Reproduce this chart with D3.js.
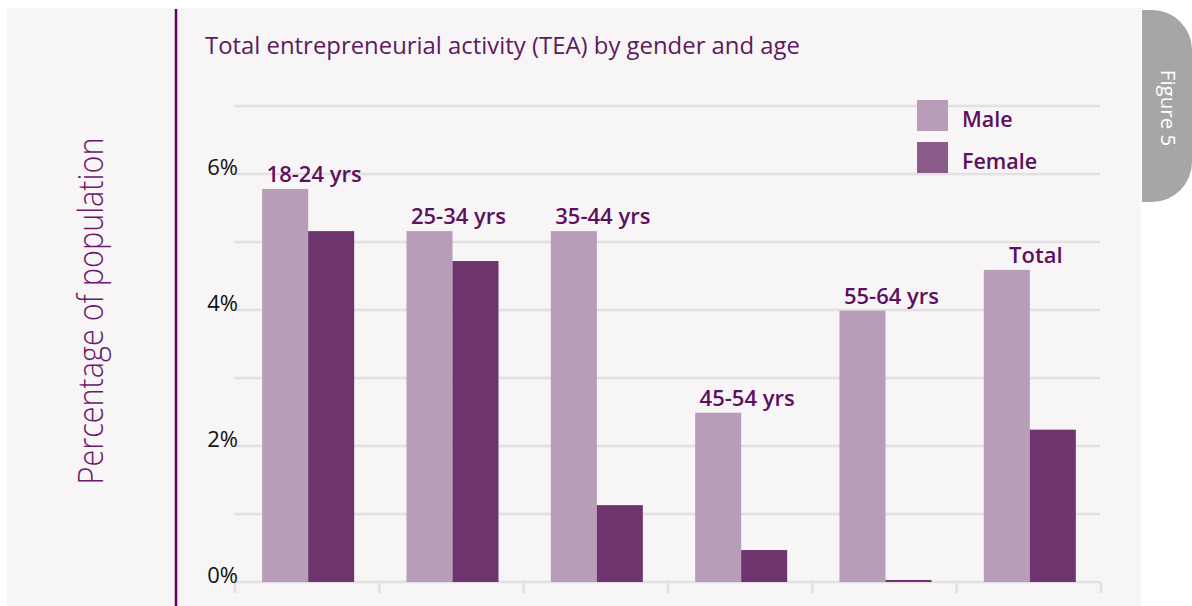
<!DOCTYPE html>
<html>
<head>
<meta charset="utf-8">
<script src="https://cdn.jsdelivr.net/npm/d3@7"></script>
<style>
  body { margin: 0; background: #fff; }
  svg text { font-family: "Open Sans", sans-serif; }
</style>
</head>
<body>
<svg id="chart" width="1192" height="606"></svg>
<script>
const categories = ["18-24 yrs", "25-34 yrs", "35-44 yrs", "45-54 yrs", "55-64 yrs", "Total"];
const series = ["Male", "Female"];
const maleValues = [5.78, 5.16, 5.16, 2.49, 3.99, 4.59];
const femaleValues = [5.16, 4.72, 1.13, 0.47, 0.03, 2.24];
const yTicks = [0, 2, 4, 6];
const gridValues = [0, 1, 2, 3, 4, 5, 6, 7];

const svg = d3.select("#chart");

// panel background and side tab
svg.append("rect").attr("x", 7).attr("y", 8).attr("width", 1134).attr("height", 598).attr("fill", "#f7f5f6");
svg.append("path")
  .attr("d", "M1142,10 H1152 A40,40 0 0 1 1192,50 V162 A40,40 0 0 1 1152,202 H1142 Z")
  .attr("fill", "#a6a6a6");
svg.append("text")
  .attr("transform", "translate(1161,108) rotate(90)")
  .attr("text-anchor", "middle")
  .attr("fill", "#fff")
  .attr("font-size", 20.5)
  .text("Figure 5");

svg.append("line").attr("x1", 176).attr("x2", 176).attr("y1", 9).attr("y2", 606)
  .attr("stroke", "#660066").attr("stroke-width", 2.5);

const x = d3.scaleBand().domain(categories).range([234, 1100]);
const y = d3.scaleLinear().domain([0, 7]).range([582, 106]);
const barW = 46;
const x1 = d3.scaleBand().domain(series)
  .range([x.bandwidth() / 2 - barW + 2, x.bandwidth() / 2 + barW + 2]);
const color = d3.scaleOrdinal(series, ["#b89cb8", "#6e346e"]);
const legendColor = d3.scaleOrdinal(series, ["#b89cb8", "#8a5a88"]);

// grid
svg.append("g").selectAll("line").data(gridValues).join("line")
  .attr("x1", 234).attr("x2", 1100)
  .attr("y1", d => y(d)).attr("y2", d => y(d))
  .attr("stroke", "#e2e0e1").attr("stroke-width", 2.5);

// bottom ticks
svg.append("g").selectAll("line").data(d3.range(categories.length + 1)).join("line")
  .attr("x1", i => 235 + i * x.step()).attr("x2", i => 235 + i * x.step())
  .attr("y1", y(0)).attr("y2", y(0) + 11)
  .attr("stroke", "#e2e0e1").attr("stroke-width", 2.5);

// y tick labels
svg.append("g").selectAll("text").data(yTicks).join("text")
  .attr("x", 238).attr("y", d => y(d) + 1)
  .attr("text-anchor", "end")
  .attr("font-size", 22)
  .attr("fill", "#111")
  .text(d => d + "%");

// bars
const rows = categories.map((c, i) => ({ cat: c, Male: maleValues[i], Female: femaleValues[i] }));
const group = svg.append("g").selectAll("g").data(rows).join("g")
  .attr("transform", d => `translate(${x(d.cat)},0)`);
group.selectAll("rect")
  .data(d => series.map(s => ({ key: s, value: d[s] })))
  .join("rect")
  .attr("x", d => x1(d.key))
  .attr("width", x1.bandwidth())
  .attr("y", d => y(d.value))
  .attr("height", d => y(0) - y(d.value))
  .attr("fill", d => color(d.key));

// category labels above male bars
group.append("text")
  .attr("x", x.bandwidth() / 2 + 8)
  .attr("y", d => y(d.Male) - 7)
  .attr("text-anchor", "middle")
  .attr("font-size", 22)
  .attr("font-weight", 600)
  .attr("fill", "#5e0f5e")
  .text(d => d.cat);

// title
svg.append("text").attr("x", 205).attr("y", 54)
  .attr("font-size", 24).attr("fill", "#5e1a5e")
  .attr("textLength", 595).attr("lengthAdjust", "spacingAndGlyphs")
  .text("Total entrepreneurial activity (TEA) by gender and age");

// y axis title
svg.append("text")
  .attr("transform", "translate(103,311) rotate(-90)")
  .attr("text-anchor", "middle")
  .attr("font-size", 35)
  .attr("font-weight", 300)
  .attr("fill", "#6b1a6b")
  .attr("textLength", 347).attr("lengthAdjust", "spacingAndGlyphs")
  .text("Percentage of population");

// legend
const legend = svg.append("g").selectAll("g").data(series).join("g")
  .attr("transform", (d, i) => `translate(917,${100 + i * 42})`);
legend.append("rect").attr("width", 31).attr("height", 31).attr("fill", d => legendColor(d));
legend.append("text").attr("x", 45).attr("y", 27)
  .attr("font-size", 21.5).attr("font-weight", 600).attr("fill", "#5e0f5e")
  .text(d => d);
</script>
</body>
</html>
